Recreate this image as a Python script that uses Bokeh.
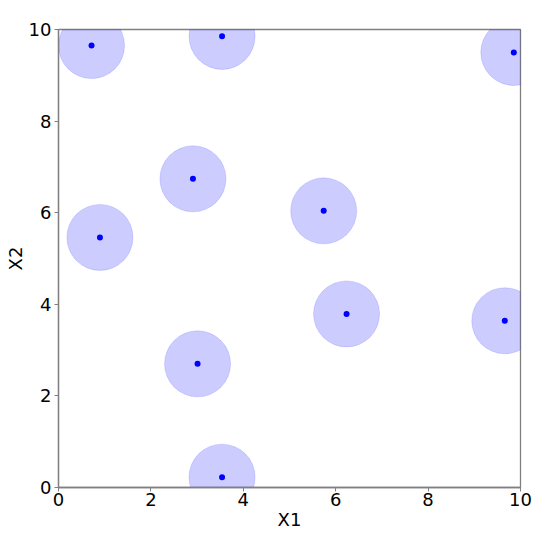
from bokeh.plotting import figure
from bokeh.models import Range1d, FixedTicker, ColumnDataSource
from bokeh.embed import file_html
from bokeh.resources import INLINE

x1 = [0.715, 3.54, 9.855, 2.91, 5.74, 0.897, 6.235, 9.66, 3.01, 3.54]
x2 = [9.65, 9.85, 9.50, 6.74, 6.04, 5.46, 3.79, 3.64, 2.70, 0.225]
ticks = [0, 2, 4, 6, 8, 10]
radius = 0.715

src = ColumnDataSource(dict(x1=x1, x2=x2))

p = figure(output_backend="svg", toolbar_location=None,
           frame_width=462, frame_height=458,
           x_range=Range1d(0, 10), y_range=Range1d(0, 10),
           min_border_left=58, min_border_top=29, min_border_right=20, min_border_bottom=41)
p.background_fill_color = "white"
p.border_fill_color = "white"
p.outline_line_color = "#808080"
p.outline_line_width = 1.3
p.grid.visible = False

p.circle(x="x1", y="x2", radius=radius, source=src,
         fill_color="blue", fill_alpha=0.2, line_color="blue", line_alpha=0.12, line_width=1)
p.scatter(x="x1", y="x2", source=src, size=6, fill_color="blue", line_color="blue", line_width=0)

for ax in (p.xaxis, p.yaxis):
    ax.ticker = FixedTicker(ticks=ticks)
    ax.minor_tick_line_color = None
    ax.major_tick_in = 0
    ax.major_tick_out = 4
    ax.major_tick_line_color = "#808080"
    ax.axis_line_color = "#808080"
    ax.axis_line_width = 1.3
    ax.major_label_text_font = "DejaVu Sans"
    ax.major_label_text_font_size = "18px"
    ax.major_label_text_color = "black"
    ax.axis_label_text_font = "DejaVu Sans"
    ax.axis_label_text_font_size = "18px"
    ax.axis_label_text_font_style = "normal"
    ax.axis_label_text_color = "black"
    ax.major_label_standoff = 3
    ax.axis_label_standoff = 0

p.xaxis.axis_label = "X1"
p.yaxis.axis_label = "X2"
p.xaxis.major_label_standoff = 1
p.xaxis.axis_label_standoff = 0

open("out.html", "w").write(file_html(p, INLINE))
